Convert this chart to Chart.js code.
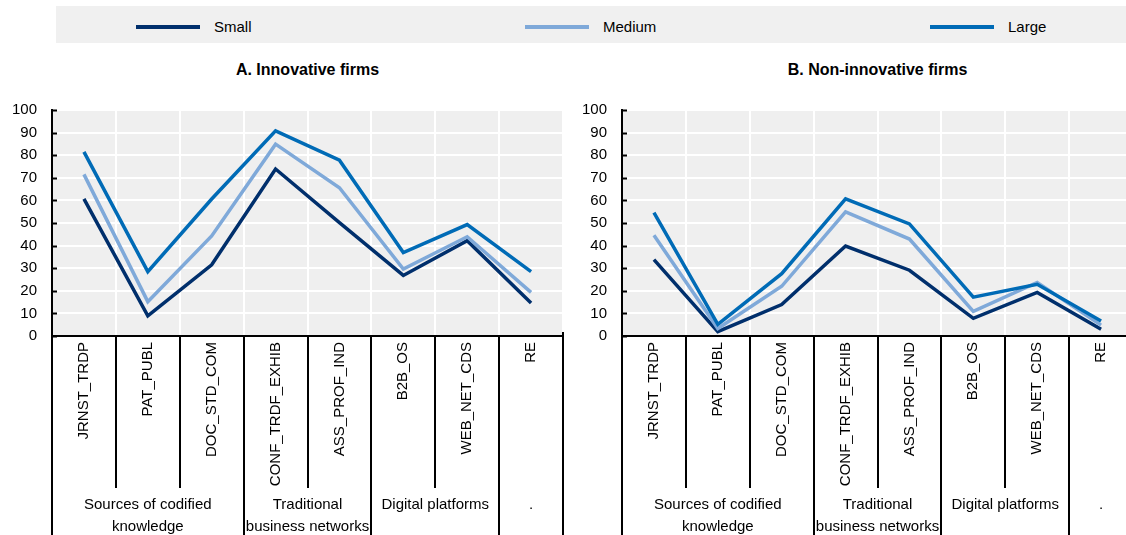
<!DOCTYPE html>
<html>
<head>
<meta charset="utf-8">
<script src="https://cdn.jsdelivr.net/npm/chart.js@4/dist/chart.umd.min.js"></script>
<style>
  html, body { margin: 0; padding: 0; background: #fff; width: 1126px; height: 535px; overflow: hidden; position: relative; }
  body { font-family: "Liberation Sans", Arial, sans-serif; color: #000; }
  #legend { position: absolute; left: 56px; top: 6px; width: 1070px; height: 37px; background: #f0f0f0; }
  .item { position: absolute; top: 2px; height: 37px; display: flex; align-items: center; font-size: 15px; }
  .swatch { width: 64px; height: 4px; margin-right: 14px; }
  .title { position: absolute; top: 59px; height: 22px; line-height: 22px; text-align: center; font-size: 16px; font-weight: bold; }
  canvas { position: absolute; top: 0; }
</style>
</head>
<body>
<div id="legend"></div>
<div class="title" id="titleA" style="left:52px;width:511px;"></div>
<div class="title" id="titleB" style="left:622px;width:511px;"></div>
<canvas id="chartA" width="566" height="535" style="left:0px"></canvas>
<canvas id="chartB" width="566" height="535" style="left:570px"></canvas>
<script>
// Collaboration channels (x categories)
const categories = ["JRNST_TRDP", "PAT_PUBL", "DOC_STD_COM", "CONF_TRDF_EXHIB", "ASS_PROF_IND", "B2B_OS", "WEB_NET_CDS", "RE"];
// Channel groups shown under the rotated labels, with how many categories each spans
const groupLabels = [["Sources of codified", "knowledge"], ["Traditional", "business networks"], ["Digital platforms"], ["."]];
const groupSpans = [3, 2, 2, 1];

const seriesNames = ["Small", "Medium", "Large"];
const panelTitles = ["A. Innovative firms", "B. Non-innovative firms"];

// A. Innovative firms (%)
const innovSmall  = [60.7, 8.9, 31.5, 73.9, 50.2, 26.8, 42.2, 14.6];
const innovMedium = [71.5, 15.2, 44.3, 84.9, 65.6, 29.6, 43.9, 19.3];
const innovLarge  = [81.5, 28.5, 60.6, 90.8, 77.8, 36.9, 49.3, 28.5];

// B. Non-innovative firms (%)
const nonInnovSmall  = [33.8, 1.9, 13.9, 39.8, 29.1, 7.8, 19.3, 3.0];
const nonInnovMedium = [44.6, 3.3, 22.0, 54.9, 42.9, 10.9, 23.7, 4.8];
const nonInnovLarge  = [54.6, 5.2, 27.6, 60.7, 49.6, 17.2, 22.9, 6.6];

const yTicks = [0, 10, 20, 30, 40, 50, 60, 70, 80, 90, 100];

const colors = ["#002f6c", "#7fa9d9", "#006bb6"];
const FONT = '"Liberation Sans", Arial, sans-serif';

// Legend strip
const legend = document.getElementById('legend');
const legendX = [80, 469, 874];
seriesNames.forEach((name, i) => {
  const it = document.createElement('div');
  it.className = 'item';
  it.style.left = legendX[i] + 'px';
  const sw = document.createElement('span');
  sw.className = 'swatch';
  sw.style.background = colors[i];
  const tx = document.createElement('span');
  tx.textContent = name;
  it.appendChild(sw); it.appendChild(tx);
  legend.appendChild(it);
});
document.getElementById('titleA').textContent = panelTitles[0];
document.getElementById('titleB').textContent = panelTitles[1];

// Plot background, inner y ticks, separators and group captions below the x axis
const decor = {
  id: 'decor',
  beforeDraw(chart) {
    const { ctx, chartArea: a } = chart;
    ctx.save();
    ctx.fillStyle = '#efefef';
    ctx.fillRect(a.left, a.top, a.right - a.left, a.bottom - a.top);
    ctx.restore();
  },
  afterDraw(chart) {
    const { ctx, chartArea: a, scales: { x, y } } = chart;
    const n = categories.length;
    const edge = (i) => i === 0 ? a.left : (i === n ? a.right : (x.getPixelForValue(i - 1) + x.getPixelForValue(i)) / 2);
    const groupEdges = [0];
    groupSpans.reduce((acc, s) => { groupEdges.push(acc + s); return acc + s; }, 0);

    ctx.save();
    ctx.strokeStyle = '#000';
    ctx.lineWidth = 2;
    ctx.beginPath();
    // short inward ticks on the value axis
    y.ticks.forEach((t, i) => {
      const py = Math.round(y.getPixelForTick(i)) + 0.5;
      ctx.moveTo(a.left, py);
      ctx.lineTo(a.left + 5, py);
    });
    // separators under the category axis
    for (let i = 0; i <= n; i++) {
      const px = Math.round(edge(i));
      const full = groupEdges.includes(i);
      ctx.moveTo(px, a.bottom - (i === n ? 4 : 0));
      ctx.lineTo(px, full ? chart.height : 488);
    }
    ctx.stroke();

    // group captions
    ctx.fillStyle = '#000';
    ctx.font = '15px ' + FONT;
    ctx.textAlign = 'center';
    ctx.textBaseline = 'middle';
    groupLabels.forEach((lines, g) => {
      const cx = (edge(groupEdges[g]) + edge(groupEdges[g + 1])) / 2;
      lines.forEach((t, k) => ctx.fillText(t, cx, 505 + k * 22));
    });
    ctx.restore();
  }
};

function makeChart(id, small, medium, large) {
  const values = [small, medium, large];
  return new Chart(document.getElementById(id), {
    type: 'line',
    data: {
      labels: categories,
      datasets: seriesNames.map((name, i) => ({
        label: name,
        data: values[i],
        borderColor: colors[i],
        backgroundColor: colors[i],
        borderWidth: 3.5,
        pointRadius: 0,
        tension: 0,
        order: 3 - i
      }))
    },
    options: {
      responsive: false,
      animation: false,
      layout: { padding: { top: 110, left: 0, right: 3, bottom: 0 } },
      plugins: { legend: { display: false }, title: { display: false }, tooltip: { enabled: false } },
      scales: {
        x: {
          type: 'category',
          offset: true,
          afterFit: (s) => { s.height = 199; },
          grid: { offset: true, color: '#ffffff', lineWidth: 2, drawTicks: false },
          border: { display: true, color: '#000', width: 2 },
          ticks: {
            autoSkip: false, minRotation: 90, maxRotation: 90, padding: 6,
            color: '#000', font: { family: FONT, size: 15 }
          }
        },
        y: {
          min: 0, max: 100,
          afterFit: (s) => { s.width = 52; },
          afterBuildTicks: (s) => { s.ticks = yTicks.map(v => ({ value: v })); },
          grid: { color: '#ffffff', lineWidth: 2, drawTicks: false },
          border: { display: true, color: '#000', width: 2 },
          ticks: { autoSkip: false, padding: 15, color: '#000', font: { family: FONT, size: 15 } }
        }
      }
    },
    plugins: [decor]
  });
}

makeChart('chartA', innovSmall, innovMedium, innovLarge);
makeChart('chartB', nonInnovSmall, nonInnovMedium, nonInnovLarge);
</script>
</body>
</html>
